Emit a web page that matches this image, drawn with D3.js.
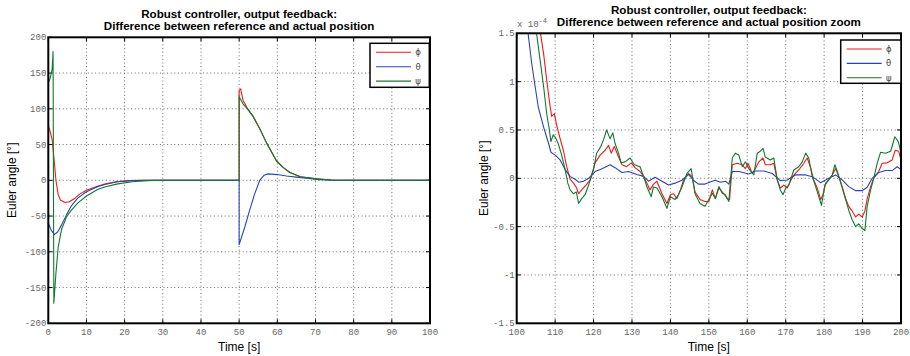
<!DOCTYPE html>
<html><head><meta charset="utf-8">
<script src="https://cdn.jsdelivr.net/npm/d3@7"></script>
<style>body{margin:0;background:#fff;} svg{display:block}</style>
</head><body><svg id="c" width="910" height="356"></svg>
<script>
// ---------- DATA ----------
const seriesNames = ["\u03d5", "\u03b8", "\u03c8"];
const titleLine1 = "Robust controller, output feedback:";
const leftTitle2 = "Difference between reference and actual position";
const rightTitle2 = "Difference between reference and actual position zoom";
const xLabel = "Time [s]";
const yLabel = "Euler angle [\u00b0]";

const leftXTicks = [0,10,20,30,40,50,60,70,80,90,100];
const leftYTicks = [-200,-150,-100,-50,0,50,100,150,200];
const rightXTicks = [100,110,120,130,140,150,160,170,180,190,200];
const rightYTicks = [-1.5,-1,-0.5,0,0.5,1,1.5];
const rightYTickLabels = ["-1.5","-1","-0.5","0","0.5","1","1.5"];

// Left panel (degrees), [time, value]
const leftPhi = [[0,76],[0.5,68],[1.0,57],[1.5,30],[2.0,0],[2.6,-20],[3.2,-28],[4.4,-31],[5.5,-30],[7,-25],[8.3,-19],[10,-14],[12.5,-9],[15,-5],[17.8,-2],[21,-0.5],[25,0],[50,0],[50,126],[50.4,128],[51,112],[52,102],[53.7,89],[55.5,71],[57.2,52],[59.8,27],[61.5,18],[63.3,11],[66,5],[70.3,2],[74,0.5],[78,0],[100,0]];
const leftTheta = [[0,-60],[0.8,-70],[1.6,-76],[2.5,-72],[3.5,-62],[4.8,-48],[6,-36],[7.7,-25],[10,-16],[12.9,-9],[15,-5.5],[18.2,-2],[22,-0.5],[26,0],[50,0],[50,-90],[51.5,-65],[52.8,-41],[54,-20],[55.4,0],[56.5,7],[57.6,9],[60,8],[62.4,6],[65,4.5],[67.6,3],[71,1],[75,0],[100,0]];
const leftPsi = [[0,136],[0.5,143],[1.0,155],[1.25,180],[1.45,-172],[2.0,-130],[2.6,-93],[3.5,-68],[4.8,-51],[6,-42],[7.7,-32],[10,-22],[12.9,-13],[15,-9],[18.2,-5],[22,-2],[26,-0.5],[30,0],[50,0],[50,117],[51,107],[52,101],[53.7,89],[55.5,71],[57.2,52],[59.8,27],[61.5,18],[63.3,11],[66,5],[70.3,2],[74,0.5],[78,0],[100,0]];

// Right panel (x 1e-4 degrees), [time, value]
const rightPhi = [[100,3.5],[103,2.6],[105,2.0],[106.1,1.52],[107,1.29],[107.8,1.02],[108.7,0.74],[109.1,0.64],[109.8,0.67],[110.4,0.55],[111.3,0.41],[112.2,0.28],[113,0.12],[113.9,-0.01],[114.8,-0.05],[115.6,-0.10],[116.1,-0.16],[116.9,-0.12],[117.8,-0.08],[119.1,-0.02],[120.4,0.16],[121.7,0.24],[123,0.29],[123.9,0.34],[124.6,0.26],[125.4,0.33],[126.5,0.22],[127.4,0.14],[128.6,0.12],[129.8,0.16],[130.8,0.11],[132.1,0.07],[133,0.02],[133.9,-0.05],[134.7,-0.12],[135.6,-0.06],[136.5,-0.03],[137.8,-0.16],[139.1,-0.26],[140,-0.17],[140.8,-0.16],[141.7,-0.21],[142.6,-0.12],[143.4,-0.02],[144.7,0.05],[145.6,0.02],[146.4,-0.14],[147.7,-0.22],[149,-0.24],[150,-0.24],[150.9,-0.12],[151.7,-0.21],[152.6,-0.10],[153.9,-0.16],[154.8,-0.21],[155.4,-0.22],[156.1,0.14],[157.4,0.155],[158.7,0.14],[159.5,0.10],[160.2,0.155],[161.3,0.05],[162.1,0.10],[163,0.17],[164.1,0.21],[164.7,0.14],[166,0.14],[166.9,0.155],[167.8,-0.017],[168.6,-0.10],[169.5,-0.07],[170.4,-0.10],[171.2,-0.034],[172.1,0.034],[173.4,0.086],[174.7,0.155],[175.6,0.21],[176.4,0.12],[177.3,-0.017],[178.2,-0.10],[179.1,-0.22],[179.7,-0.17],[180.4,-0.05],[181.2,-0.017],[182.1,0.034],[183,0.10],[183.8,0.017],[184.7,-0.086],[185.6,-0.21],[186.4,-0.29],[187.3,-0.34],[188.2,-0.40],[189,-0.37],[189.9,-0.40],[190.6,-0.34],[191.2,-0.21],[192.1,-0.086],[192.9,0],[194.2,0.07],[195.1,0.155],[196.4,0.16],[197.7,0.19],[198.5,0.29],[199.4,0.28],[200,0.19]];
const rightTheta = [[100,2.4],[101.5,1.9],[102.9,1.52],[103.9,1.19],[104.8,0.95],[105.6,0.74],[107,0.53],[108.3,0.36],[108.9,0.27],[110,0.24],[111.3,0.19],[112.6,0.09],[113.9,0.02],[115.2,-0.01],[116.1,-0.04],[117.4,-0.03],[118.7,0],[120.4,0.07],[122.2,0.10],[124.3,0.14],[125.6,0.11],[127.4,0.06],[129.1,0.07],[131.3,0.04],[133,0.02],[134.3,-0.03],[136,0.01],[137.8,-0.03],[139.5,-0.07],[141.2,-0.05],[143,-0.02],[144.7,0.04],[146,-0.02],[147.3,-0.06],[149,-0.06],[150.9,-0.03],[151.7,-0.02],[153,-0.04],[154.3,-0.03],[155.2,-0.06],[156.1,0.07],[157.8,0.07],[160.4,0.045],[162.1,0.076],[164.3,0.076],[166.5,0.05],[168.6,-0.024],[170.4,-0.017],[172.5,0.035],[175.2,0.035],[176.9,0.017],[179.1,-0.045],[181.2,0],[183,0.035],[184.7,-0.017],[186.4,-0.086],[188.2,-0.128],[189.9,-0.128],[191.2,-0.093],[192.5,0],[194.2,0.06],[196,0.08],[197.7,0.08],[199,0.12],[200,0.09]];
const rightPsi = [[100,3.2],[103,2.4],[104.3,1.8],[105.1,1.52],[106.1,1.22],[107,0.95],[107.8,0.67],[108.5,0.50],[108.9,0.38],[109.5,0.45],[110.1,0.42],[110.8,0.36],[111.7,0.24],[112.6,0.09],[113.3,-0.05],[113.9,-0.12],[114.8,-0.16],[115.5,-0.14],[116.1,-0.26],[116.9,-0.21],[117.8,-0.17],[118.7,-0.07],[120,0.09],[120.8,0.26],[121.9,0.33],[122.6,0.40],[123.4,0.50],[124.3,0.41],[125,0.47],[125.6,0.36],[126.5,0.26],[127.2,0.16],[128.2,0.17],[129.5,0.21],[130.6,0.14],[132.1,0.12],[133,0.02],[133.9,-0.09],[135,-0.19],[135.6,-0.09],[136.5,-0.10],[137.8,-0.19],[139.1,-0.31],[140,-0.19],[141.2,-0.22],[142.1,-0.17],[143,-0.09],[144.3,0.05],[145.4,0.10],[146.4,-0.16],[147.7,-0.26],[149,-0.29],[150,-0.22],[150.9,-0.155],[151.7,-0.21],[152.6,-0.086],[153.5,-0.155],[154.3,-0.17],[155.2,-0.24],[156.1,0.21],[156.9,0.26],[157.8,0.24],[158.7,0.12],[159.5,0.17],[160.4,0.10],[161.7,0.034],[162.6,0.26],[163.4,0.28],[164.1,0.31],[164.7,0.22],[166,0.19],[166.9,0.21],[167.8,-0.017],[168.6,-0.12],[169.3,-0.17],[170,-0.10],[170.8,-0.07],[172.1,0.086],[173.4,0.12],[174.3,0.17],[175.2,0.26],[176,0.21],[176.9,0.017],[177.8,-0.086],[178.6,-0.19],[179.3,-0.28],[180.2,-0.07],[181.2,-0.017],[182.1,0.034],[182.8,0.14],[183.6,0.05],[184.7,-0.10],[185.6,-0.22],[186.4,-0.33],[187.3,-0.43],[188.2,-0.50],[189,-0.47],[189.9,-0.52],[190.6,-0.54],[191.2,-0.29],[192.1,-0.12],[192.9,0],[193.8,0.155],[194.7,0.27],[196,0.26],[197.3,0.28],[198.4,0.43],[199.3,0.38],[200,0.26]];

// ---------- STYLE ----------
const colors = ["#f01818", "#2a44b4", "#0e7a30"];
const svg = d3.select("#c");

function panel(o) {
  const x = d3.scaleLinear().domain(o.xDomain).range([o.x0, o.x1]);
  const y = d3.scaleLinear().domain(o.yDomain).range([o.y1, o.y0]);
  const g = svg.append("g");
  const cid = "clip" + o.id;
  svg.append("defs").append("clipPath").attr("id", cid)
    .append("rect").attr("x", o.x0).attr("y", o.y0).attr("width", o.x1 - o.x0).attr("height", o.y1 - o.y0);
  g.append("rect").attr("x", o.x0).attr("y", o.y0).attr("width", o.x1 - o.x0).attr("height", o.y1 - o.y0).attr("fill", "#fff");
  // grid
  const grid = g.append("g").attr("stroke", "#444").attr("stroke-width", 0.8).attr("stroke-dasharray", "1,2.6");
  o.xTicks.slice(1, -1).forEach(t => grid.append("line").attr("x1", x(t)).attr("x2", x(t)).attr("y1", o.y0).attr("y2", o.y1));
  o.yTicks.slice(1, -1).forEach(t => grid.append("line").attr("x1", o.x0).attr("x2", o.x1).attr("y1", y(t)).attr("y2", y(t)));
  // ticks inward
  const tk = g.append("g").attr("stroke", "#000").attr("stroke-width", 1);
  o.xTicks.forEach(t => {
    tk.append("line").attr("x1", x(t)).attr("x2", x(t)).attr("y1", o.y1).attr("y2", o.y1 - 4);
    tk.append("line").attr("x1", x(t)).attr("x2", x(t)).attr("y1", o.y0).attr("y2", o.y0 + 4);
  });
  o.yTicks.forEach(t => {
    tk.append("line").attr("x1", o.x0).attr("x2", o.x0 + 4).attr("y1", y(t)).attr("y2", y(t));
    tk.append("line").attr("x1", o.x1).attr("x2", o.x1 - 4).attr("y1", y(t)).attr("y2", y(t));
  });
  // lines
  const line = d3.line().x(d => x(d[0])).y(d => y(d[1]));
  const lg = g.append("g").attr("clip-path", `url(#${cid})`);
  o.series.forEach((s, i) => {
    lg.append("path").datum(s).attr("d", line).attr("fill", "none")
      .attr("stroke", colors[i]).attr("stroke-width", 1.1).attr("stroke-linejoin", "round");
  });
  // frame
  g.append("rect").attr("x", o.x0).attr("y", o.y0).attr("width", o.x1 - o.x0).attr("height", o.y1 - o.y0)
    .attr("fill", "none").attr("stroke", "#000").attr("stroke-width", 2);
  // tick labels
  const tl = g.append("g").attr("font-family", "'Liberation Mono', 'DejaVu Sans Mono', monospace").attr("font-size", 9).attr("fill", "#666");
  o.xTicks.forEach(t => tl.append("text").attr("x", x(t)).attr("y", o.y1 + 12).attr("text-anchor", "middle").text(t));
  o.yTicks.forEach((t, i) => tl.append("text").attr("x", o.x0 - 2).attr("y", y(t) + 3).attr("text-anchor", "end").text(o.yLabels ? o.yLabels[i] : t));
  // axis labels
  const cx = (o.x0 + o.x1) / 2;
  g.append("text").attr("x", cx).attr("y", 351).attr("text-anchor", "middle")
    .attr("font-family", "'Liberation Sans', Arial, sans-serif").attr("font-size", 12).text(xLabel);
  g.append("text").attr("transform", `translate(${o.yLabelX},${(o.y0 + o.y1) / 2}) rotate(-90)`).attr("text-anchor", "middle")
    .attr("font-family", "'Liberation Sans', Arial, sans-serif").attr("font-size", 12).text(yLabel);
  // titles
  const tt = g.append("g").attr("font-family", "'Liberation Sans', Arial, sans-serif").attr("font-size", 11.6).attr("font-weight", "bold").attr("text-anchor", "middle");
  tt.append("text").attr("x", cx).attr("y", o.y0 - 19.3).text(titleLine1);
  tt.append("text").attr("x", cx).attr("y", o.y0 - 7).text(o.title2);
  // legend
  const L = o.legend;
  const lgd = g.append("g");
  lgd.append("rect").attr("x", L.x).attr("y", L.y).attr("width", L.w).attr("height", L.h).attr("fill", "#fff").attr("stroke", "#000").attr("stroke-width", 1.5);
  seriesNames.forEach((n, i) => {
    const yy = L.y + 9 + i * 14.4;
    lgd.append("line").attr("x1", L.x + 6).attr("x2", L.x + 41).attr("y1", yy).attr("y2", yy).attr("stroke", colors[i]).attr("stroke-width", 1.1);
    lgd.append("text").attr("x", L.x + 48).attr("y", yy + 3).attr("text-anchor", "middle").attr("font-family", "'DejaVu Sans', sans-serif").attr("font-size", 8.5).attr("fill", "#444").text(n);
  });
  return {x, y};
}

panel({id: "L", xDomain: [0, 100], yDomain: [-200, 200], x0: 48.3, x1: 430, y0: 37.3, y1: 323.3,
  xTicks: leftXTicks, yTicks: leftYTicks, series: [leftPhi, leftTheta, leftPsi], title2: leftTitle2, yLabelX: 16,
  legend: {x: 370, y: 43.3, w: 59.3, h: 44}});
panel({id: "R", xDomain: [100, 200], yDomain: [-1.5, 1.5], x0: 516.7, x1: 901, y0: 33.3, y1: 323.3,
  xTicks: rightXTicks, yTicks: rightYTicks, yLabels: rightYTickLabels, series: [rightPhi, rightTheta, rightPsi], title2: rightTitle2, yLabelX: 488,
  legend: {x: 840.7, y: 40, w: 60.3, h: 43.3}});

// exponent label
const ex = svg.append("text").attr("x", 517).attr("y", 27).attr("font-family", "'Liberation Mono', monospace").attr("font-size", 9).attr("fill", "#666");
ex.append("tspan").text("x 10");
ex.append("tspan").attr("dy", -4).attr("font-size", 7).text("-4");
</script></body></html>
